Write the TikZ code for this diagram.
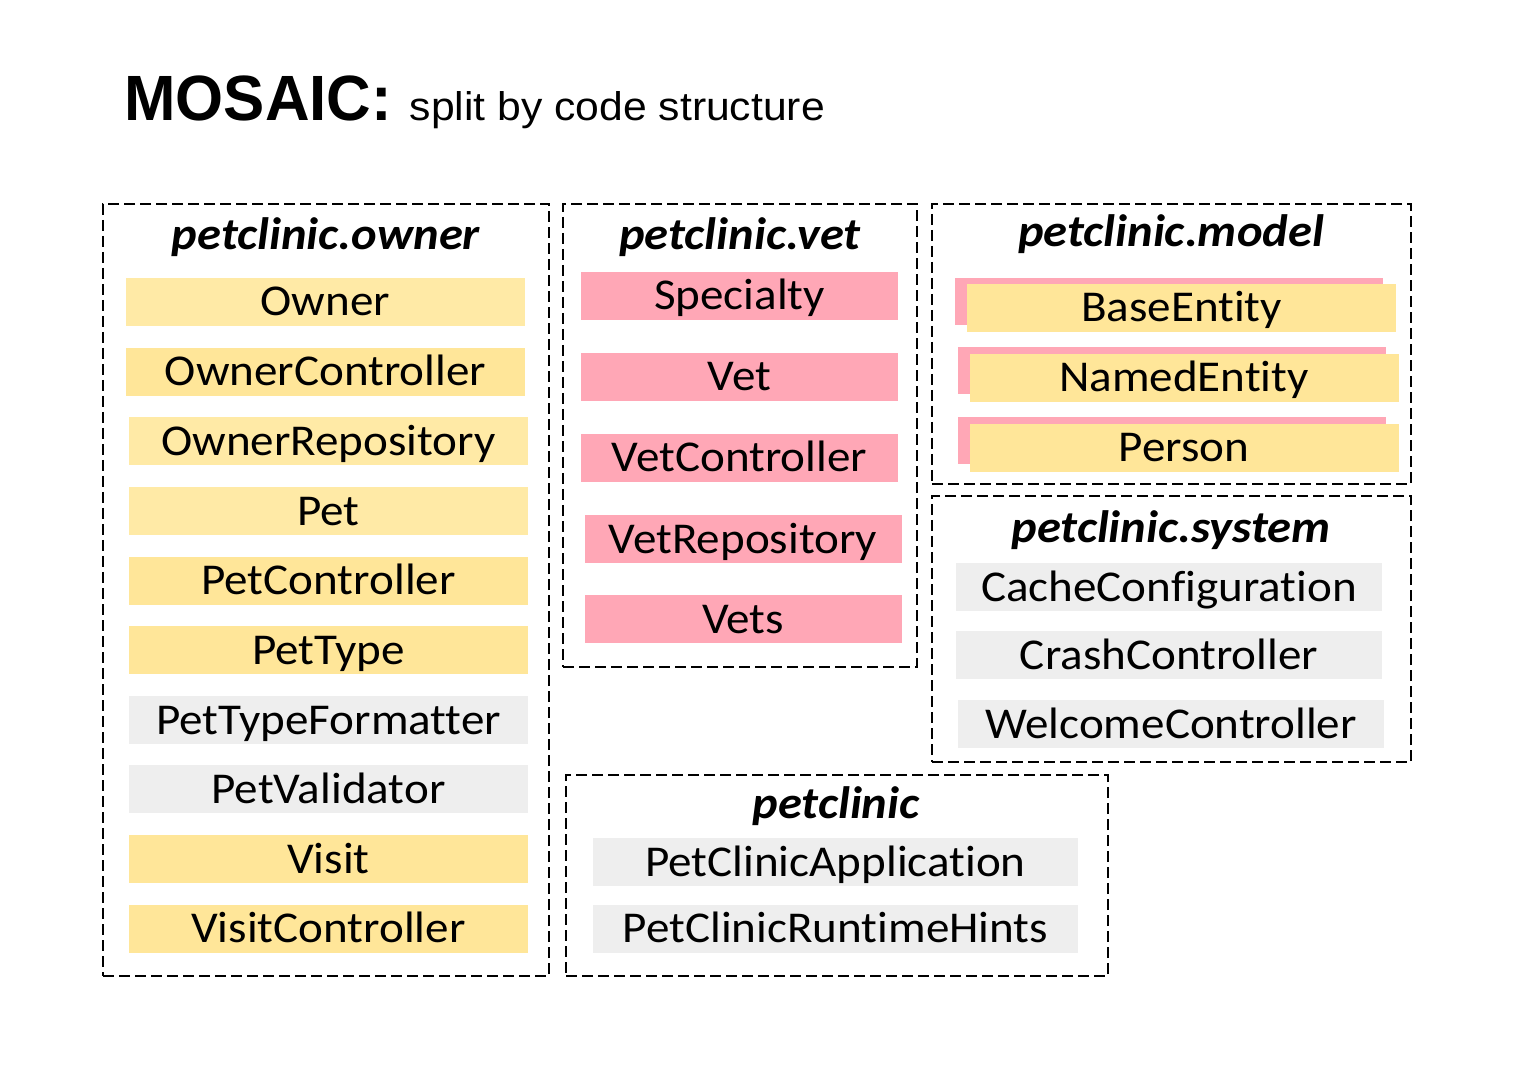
\documentclass[tikz,border=0pt]{standalone}
\usepackage{fontspec}
\setmainfont{Carlito}[FakeStretch=1.07, Ligatures=NoCommon]
\newfontfamily\headfont{Liberation Sans}[FakeStretch=1.067]
\newfontfamily\mosaicfont{Liberation Sans}[FakeStretch=0.965]
\usetikzlibrary{positioning}
\definecolor{ownyel}{HTML}{FFEAA6}
\definecolor{ctlyel}{HTML}{FFE699}
\definecolor{vetpink}{HTML}{FFA7B6}
\definecolor{sysgrey}{HTML}{EEEEEE}

\tikzset{
  cls/.style={inner sep=0pt, minimum height=24pt, text height=14pt, text depth=0pt,
    font=\fontsize{22}{26}\selectfont},
  pkgbox/.style={draw, line width=1.2pt, dash pattern=on 5.5pt off 2.5pt, inner sep=0pt},
  pkgname/.style={anchor=base, inner sep=0pt, font=\fontsize{22.7}{26}\selectfont\bfseries\itshape},
  ownercol/.style={cls, minimum width=199.5pt},
  vetcol/.style={cls, minimum width=158.5pt},
}

\begin{document}
\begin{tikzpicture}[x=0.5pt, y=-0.5pt]
  \useasboundingbox (0,0) rectangle (1519,1074);

  \node (mosaic) [anchor=base west, inner sep=0pt, font=\mosaicfont\bfseries\fontsize{32}{36}\selectfont] at (124,121) {MOSAIC:};
  \node (subtitle) [anchor=base west, inner sep=0pt, font=\headfont\fontsize{20}{24}\selectfont] at ([xshift=8.5pt]mosaic.base east) {split by code structure};

  % petclinic.owner
  \node (pkgowner) [pkgbox, minimum width=223pt, minimum height=386pt] at (326,590) {};
  \node (ownertitle) [pkgname] at (326,250) {petclinic.owner};
  \node (owner) [ownercol, fill=ownyel] at (325.5,302) {Owner};
  \node (ownerctl) [ownercol, fill=ctlyel] at (325.5,372) {OwnerController};
  \node (ownerrepo) [ownercol, fill=ownyel] at (328.5,441.5) {OwnerRepository};
  \node (pet) [ownercol, fill=ownyel] at (328.5,511) {Pet};
  \node (petctl) [ownercol, fill=ctlyel] at (328.5,580.5) {PetController};
  \node (pettype) [ownercol, fill=ctlyel] at (328.5,650) {PetType};
  \node (pettypefmt) [ownercol, fill=sysgrey] at (328.5,720) {PetTypeFormatter};
  \node (petvalid) [ownercol, fill=sysgrey] at (328.5,789) {PetValidator};
  \node (visit) [ownercol, fill=ctlyel] at (328.5,859) {Visit};
  \node (visitctl) [ownercol, fill=ctlyel] at (328.5,928.5) {VisitController};

  % petclinic.vet
  \node (pkgvet) [pkgbox, minimum width=177pt, minimum height=231.5pt] at (740,435.5) {};
  \node (vettitle) [pkgname] at (740,250) {petclinic.vet};
  \node (specialty) [vetcol, fill=vetpink] at (739.5,296) {Specialty};
  \node (vet) [vetcol, fill=vetpink] at (739.5,377) {Vet};
  \node (vetctl) [vetcol, fill=vetpink] at (739.5,458) {VetController};
  \node (vetrepo) [vetcol, fill=vetpink] at (743,539) {VetRepository};
  \node (vets) [vetcol, fill=vetpink] at (743,619) {Vets};

  % petclinic.model
  \node (pkgmodel) [pkgbox, minimum width=239.5pt, minimum height=140pt] at (1171.5,344) {};
  \node (modeltitle) [pkgname] at (1171,247) {petclinic.model};
  \node (baseshade) [cls, fill=vetpink, minimum width=214pt, minimum height=23.5pt] at (1169,301.5) {};
  \node (baseent) [cls, fill=ctlyel, minimum width=214.5pt] at (1181.5,308) {BaseEntity};
  \node (namedshade) [cls, fill=vetpink, minimum width=214pt, minimum height=23.5pt] at (1171.5,371) {};
  \node (namedent) [cls, fill=ctlyel, minimum width=214.5pt] at (1184,378) {NamedEntity};
  \node (personshade) [cls, fill=vetpink, minimum width=214pt, minimum height=23.5pt] at (1171.5,441) {};
  \node (person) [cls, fill=ctlyel, minimum width=214.5pt] at (1184,448) {Person};

  % petclinic.system
  \node (pkgsystem) [pkgbox, minimum width=239.5pt, minimum height=133pt] at (1171.5,629) {};
  \node (systemtitle) [pkgname] at (1171,542) {petclinic.system};
  \node (cachecfg) [cls, fill=sysgrey, minimum width=213pt] at (1169,587) {CacheConfiguration};
  \node (crashctl) [cls, fill=sysgrey, minimum width=213pt] at (1169,655) {CrashController};
  \node (welcomectl) [cls, fill=sysgrey, minimum width=213pt] at (1171,724) {WelcomeController};

  % petclinic
  \node (pkgroot) [pkgbox, minimum width=271pt, minimum height=100.5pt] at (837,875.5) {};
  \node (roottitle) [pkgname] at (836,818) {petclinic};
  \node (petclinicapp) [cls, fill=sysgrey, minimum width=242.5pt] at (835.5,862) {PetClinicApplication};
  \node (runtimehints) [cls, fill=sysgrey, minimum width=242.5pt] at (835.5,928.5) {PetClinicRuntimeHints};

\end{tikzpicture}
\end{document}
